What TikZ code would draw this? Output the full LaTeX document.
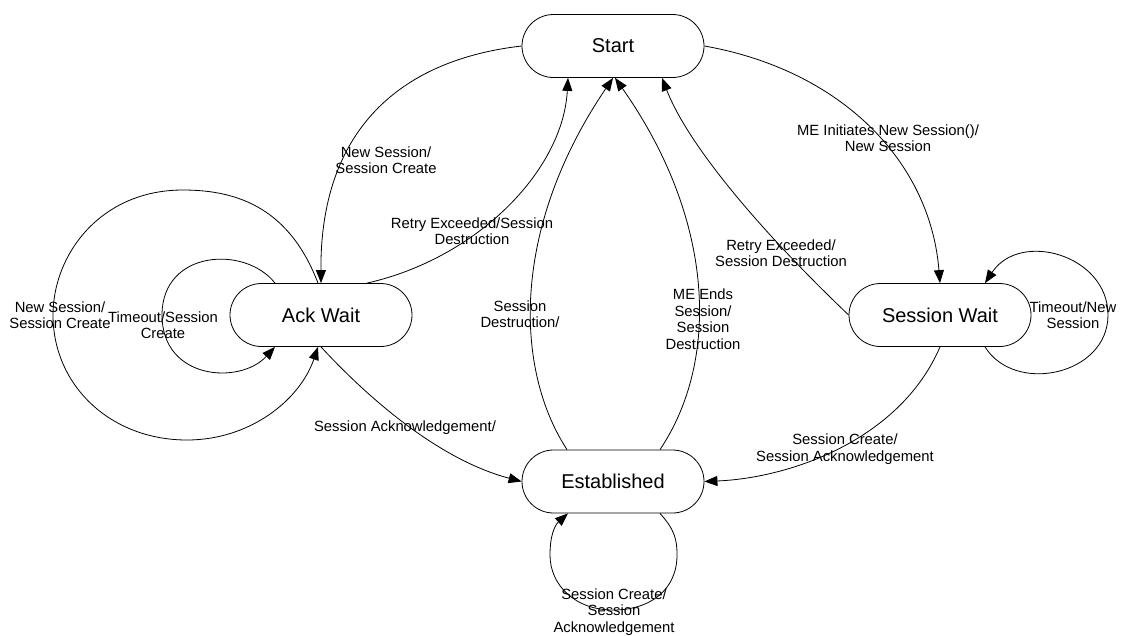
\documentclass[tikz,border=0pt]{standalone}
\usepackage{fontspec}
\setmainfont{Liberation Sans}
\usetikzlibrary{arrows.meta,calc}
\begin{document}
\begin{tikzpicture}[x=1pt,y=-1pt,
  state/.style={draw, line width=0.8pt, rounded corners=31.5pt, minimum width=182pt, minimum height=63pt, inner sep=0pt, font=\fontsize{20}{24}\selectfont},
  lbl/.style={align=center, inner sep=0pt, font=\fontsize{14.8}{16.5}\selectfont},
  edge/.style={line width=0.8pt, -{Triangle[length=13pt,width=10pt]}}]
\useasboundingbox (0,0) rectangle (1148,635);

\node[state] (start) at (613,46) {Start};
\node[state] (ack) at (321,315) {Ack Wait};
\node[state] (est) at (613,481.5) {Established};
\node[state] (sw) at (940,315) {Session Wait};

% Start -> Ack Wait
\draw[edge] (start.west) .. controls (400,60) and (320,130) .. (ack.north);
\node[lbl] (l1) at (386,160) {New Session/\\Session Create};

% Ack Wait -> Start (retry)
\draw[edge] ($(ack.north)+(46,0)$) .. controls (478,258) and (563,170) .. ($(start.south)+(-45,0)$);
\node[lbl] (l2) at (472,231) {Retry Exceeded/Session\\Destruction};

% Established -> Start (session destruction)
\draw[edge] ($(est.north)+(-46,0)$) .. controls (515,370) and (510,230) .. (start.south);
\node[lbl] (l3) at (520,314) {Session\\Destruction/};

% Established -> Start (ME ends)
\draw[edge] ($(est.north)+(47,0)$) .. controls (720,360) and (715,220) .. ($(start.south)+(2,0)$);
\node[lbl] (l4) at (703,319) {ME Ends\\Session/\\Session\\Destruction};

% Session Wait -> Start (retry)
\draw[edge] (sw.west) .. controls (770,240) and (690,150) .. ($(start.south)+(49,0)$);
\node[lbl] (l5) at (781,253) {Retry Exceeded/\\Session Destruction};

% Start -> Session Wait
\draw[edge] (start.east) .. controls (840,70) and (930,160) .. (sw.north);
\node[lbl] (l6) at (888,138) {ME Initiates New Session()/\\New Session};

% Session Wait self loop
\draw[edge] ($(sw.south)+(45,0)$) .. controls (1015,395) and (1108,375) .. (1108,315)
  .. controls (1108,255) and (1020,230) .. ($(sw.north)+(45,0)$);
\node[lbl] (l7) at (1073,315) {Timeout/New\\Session};

% Session Wait -> Established
\draw[edge] (sw.south) .. controls (900,440) and (790,478) .. (est.east);
\node[lbl] (l8) at (845,449) {Session Create/\\Session Acknowledgement};

% Ack Wait -> Established
\draw[edge] (ack.south) .. controls (370,400) and (440,460) .. (est.west);
\node[lbl] (l9) at (405,428) {Session Acknowledgement/};

% Ack Wait inner self loop
\draw[edge] ($(ack.north)+(-46,0)$) .. controls (245,245) and (162,250) .. (162,315)
  .. controls (162,380) and (240,385) .. ($(ack.south)+(-46,0)$);
\node[lbl] (l10) at (163,325) {Timeout/Session\\Create};

% Ack Wait outer self loop
\draw[edge] ($(ack.north)+(-3,0)$) .. controls (290,210) and (240,190) .. (183,190)
  .. controls (100,190) and (53,255) .. (53,315)
  .. controls (53,385) and (110,440) .. (187,440)
  .. controls (250,440) and (300,400) .. ($(ack.south)+(-3,0)$);
\node[lbl] (l11) at (60,315) {New Session/\\Session Create};

% Established self loop
\draw[edge] ($(est.south)+(47,0)$) .. controls (675,530) and (677,540) .. (677,555)
  .. controls (677,590) and (650,610) .. (613,610)
  .. controls (575,610) and (550,585) .. (550,555)
  .. controls (550,535) and (555,525) .. ($(est.south)+(-45,0)$);
\node[lbl] (l12) at (614,612) {Session Create/\\Session\\Acknowledgement};
\end{tikzpicture}
\end{document}
